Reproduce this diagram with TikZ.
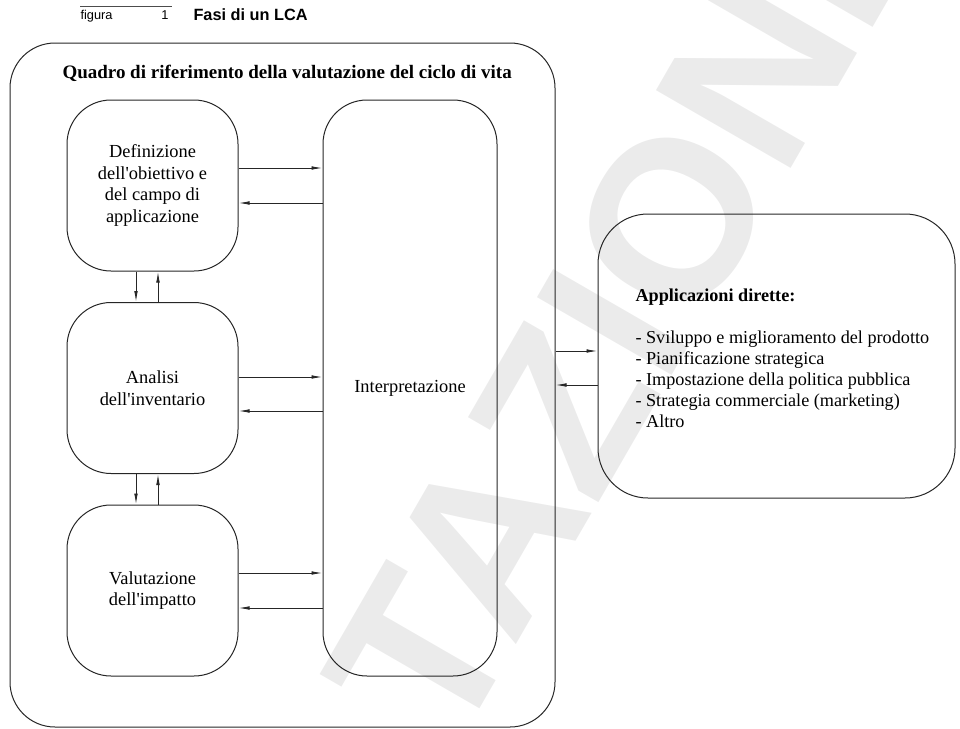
\documentclass[tikz,border=0pt]{standalone}
\usepackage{fontspec}
\setmainfont{Liberation Serif}
\newfontfamily\hsans{Liberation Sans}
\usetikzlibrary{arrows.meta}
\begin{document}
\begin{tikzpicture}[x=1pt,y=-1pt,
  line width=1pt,
  box/.style={draw=black!85, rounded corners=44pt, minimum width=171pt,
    minimum height=171pt, align=center, inner sep=0pt,
    font=\fontsize{18.4}{21.5}\selectfont},
  arr/.style={draw=black!85, line width=0.9pt, -{Latex[length=11pt,width=3.6pt]}},
  wmark/.style={rotate=60, anchor=base west, text=black!8, inner sep=0pt,
    font=\hsans\bfseries\fontsize{226}{226}\selectfont},
]
\useasboundingbox (0,0) rectangle (960,728);
% watermark
\node[wmark] (wm) at (453,755) {TAZIONE};
% header
\draw[line width=0.6pt, black!70] (80,6) -- (172,6);
\node[font=\hsans\fontsize{12.8}{13}\selectfont, anchor=base west, inner sep=0pt] (fig) at (80,19) {figura};
\node[font=\hsans\fontsize{12.8}{13}\selectfont, anchor=base east, inner sep=0pt] (num) at (169,19) {1};
\node[font=\hsans\bfseries\fontsize{16.3}{17}\selectfont, anchor=base west, inner sep=0pt] (cap) at (193,20) {Fasi di un LCA};
% frame
\node[draw=black!85, rounded corners=45pt, minimum width=545pt, minimum height=684pt] (frame) at (282.5,385) {};
\node[font=\bfseries\fontsize{19}{22}\selectfont, anchor=base west, inner sep=0pt] (title) at (62,78) {Quadro di riferimento della valutazione del ciclo di vita};
% phase boxes
\node[box] (def) at (152.5,185.5) {Definizione\\dell\textquotesingle obiettivo e\\del campo di\\applicazione};
\node[box] (ana) at (152.5,388) {Analisi\\dell\textquotesingle inventario};
\node[box] (val) at (152.5,590.5) {Valutazione\\dell\textquotesingle impatto};
\node[box, minimum width=174pt, minimum height=576pt] (int) at (410,388) {Interpretazione};
% applications
\node[draw=black!85, rounded corners=50pt, minimum width=357pt, minimum height=284pt] (app) at (776.5,356) {};
\node[anchor=west, align=left, inner sep=0pt, font=\fontsize{18.2}{21}\selectfont] (apptxt) at (635,358)
  {\textbf{Applicazioni dirette:}\\[21pt]
   - Sviluppo e miglioramento del prodotto\\
   - Pianificazione strategica\\
   - Impostazione della politica pubblica\\
   - Strategia commerciale (marketing)\\
   - Altro};
% arrows to/from interpretation
\draw[arr] (def.east |- 0,168) -- (int.west |- 0,168);
\draw[arr] (int.west |- 0,203) -- (def.east |- 0,203);
\draw[arr] (ana.east |- 0,377) -- (int.west |- 0,377);
\draw[arr] (int.west |- 0,411) -- (ana.east |- 0,411);
\draw[arr] (val.east |- 0,573) -- (int.west |- 0,573);
\draw[arr] (int.west |- 0,608) -- (val.east |- 0,608);
% vertical arrows
\draw[arr] (def.south -| 136,0) -- (ana.north -| 136,0);
\draw[arr] (ana.north -| 158,0) -- (def.south -| 158,0);
\draw[arr] (ana.south -| 136,0) -- (val.north -| 136,0);
\draw[arr] (val.north -| 158,0) -- (ana.south -| 158,0);
% arrows frame <-> applications
\draw[arr] (frame.east |- 0,351) -- (app.west |- 0,351);
\draw[arr] (app.west |- 0,385) -- (frame.east |- 0,385);
\end{tikzpicture}
\end{document}
